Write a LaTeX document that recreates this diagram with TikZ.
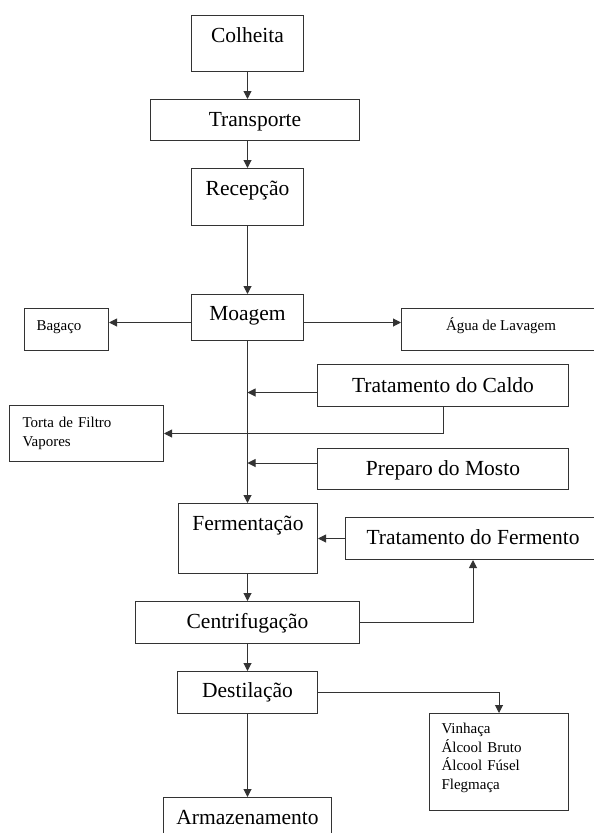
\documentclass[tikz,border=0pt]{standalone}
\usepackage{fontspec}
\setmainfont{Liberation Serif}
\usetikzlibrary{arrows.meta}

\begin{document}
\begin{tikzpicture}[x=1bp,y=-1bp,
	etapa/.style={draw=black!80, line width=1bp, anchor=north west, inner sep=0pt,
		font=\fontsize{21.5bp}{26bp}\selectfont, text height=16bp, text depth=4bp},
	saida/.style={draw=black!80, line width=1bp, anchor=north west, inner xsep=12bp, inner ysep=0pt,
		font=\fontsize{15bp}{18.5bp}\selectfont, text height=11bp, align=left},
	fluxo/.style={draw=black!80, line width=1bp, -{Triangle[length=8bp,width=8bp]}}]
	\useasboundingbox (0,0) rectangle (594,833);
	% etapas do processo
	\node[etapa, minimum width=112bp, minimum height=56bp, text depth=18bp] (colheita) at (191,15) {Colheita};
	\node[etapa, minimum width=209bp, minimum height=41bp] (transporte) at (150,99) {Transporte};
	\node[etapa, minimum width=112bp, minimum height=57bp, text depth=19bp] (recepcao) at (191,168) {Recepção};
	\node[etapa, minimum width=112bp, minimum height=46bp, text depth=10bp] (moagem) at (191,294) {Moagem};
	\node[etapa, minimum width=251bp, minimum height=42bp, text depth=3bp] (caldo) at (317,364) {Tratamento do Caldo};
	\node[etapa, minimum width=251bp, minimum height=41bp, text depth=3bp] (mosto) at (317,448) {Preparo do Mosto};
	\node[etapa, minimum width=139bp, minimum height=70bp, text depth=32bp] (fermentacao) at (178,503) {Fermentação};
	\node[etapa, minimum width=255bp, minimum height=42bp] (fermento) at (345,517) {Tratamento do Fermento};
	\node[etapa, minimum width=224bp, minimum height=42bp] (centrifugacao) at (135,601) {Centrifugação};
	\node[etapa, minimum width=140bp, minimum height=42bp, text depth=6bp] (destilacao) at (177,671) {Destilação};
	\node[etapa, minimum width=168bp, minimum height=42bp] (armazenamento) at (163,797) {Armazenamento};
	% produtos e residuos
	\node[saida, minimum width=84bp, minimum height=42bp, text width=60bp, text depth=9bp] (bagaco) at (24,308) {Bagaço};
	\node[saida, minimum width=199bp, minimum height=42bp, text depth=9bp] (agua) at (401,308) {Água de Lavagem};
	\node[saida, minimum width=154bp, minimum height=56bp, text width=128bp, text depth=23bp] (torta) at (9,405) {Torta de Filtro\\Vapores};
	\node[saida, minimum width=139bp, minimum height=97bp, text width=115bp, text depth=68bp] (vinhaca) at (429,713) {Vinhaça\\Álcool Bruto\\Álcool Fúsel\\Flegmaça};

	\foreach \a/\b in {colheita/transporte, transporte/recepcao, recepcao/moagem, moagem/fermentacao,
		fermentacao/centrifugacao, centrifugacao/destilacao, destilacao/armazenamento}
		\draw[fluxo] (\a.south -| moagem.south) -- (\b.north -| moagem.south);
	\foreach \a/\dy in {caldo/-7, mosto/6}
		\draw[fluxo] ([yshift=\dy bp]\a.west) -- ([yshift=\dy bp]\a.west -| moagem.south);
	\draw[fluxo] ([yshift=-5bp]moagem.west) -- ([yshift=-5bp]moagem.west -| bagaco.east);
	\draw[fluxo] ([yshift=-5bp]moagem.east) -- ([yshift=-5bp]moagem.east -| agua.west);
	\draw[fluxo] (caldo.south) |- (torta.east);
	\draw[fluxo] (fermento.west) -- (fermento.west -| fermentacao.east);
	\draw[fluxo] (centrifugacao.east) -| (fermento.south);
	\draw[fluxo] (destilacao.east) -| (vinhaca.north);
\end{tikzpicture}
\end{document}
